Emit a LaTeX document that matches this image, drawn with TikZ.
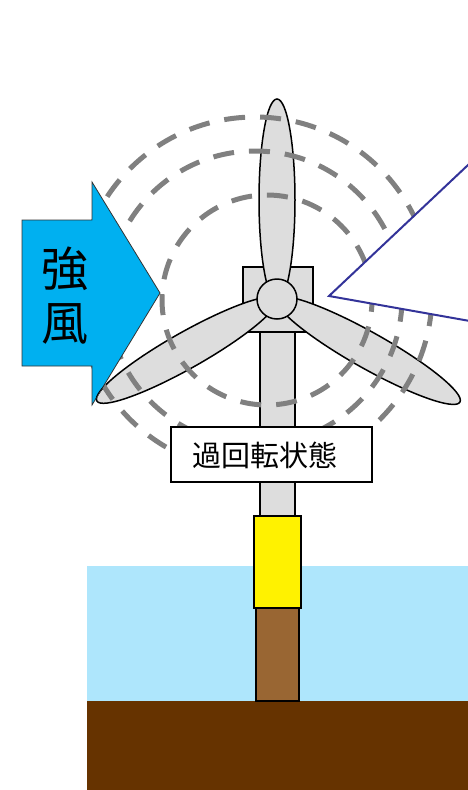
\documentclass[tikz,border=0pt]{standalone}
\usepackage{fontspec}
\newfontfamily\jpfont{Noto Sans CJK JP}
\definecolor{sea}{HTML}{AEE6FC}
\definecolor{seabed}{HTML}{663300}
\definecolor{pilebrown}{HTML}{996633}
\definecolor{towergray}{HTML}{DDDDDD}
\definecolor{ringgray}{HTML}{808080}
\definecolor{windblue}{HTML}{00B0F0}
\definecolor{calloutblue}{HTML}{333399}
\begin{document}
\begin{tikzpicture}[x=1pt,y=-1pt]
\tikzset{
  part/.style={fill=towergray, draw=black, line width=1.2pt},
  blade/.style={fill=towergray, draw=black, line width=1.5pt},
  ring/.style={draw=ringgray, line width=5pt, dash pattern=on 21pt off 15pt},
  windarrow/.style={fill=windblue, draw=black!80, line width=0.8pt},
  statebox/.style={draw=black, fill=white, line width=1.2pt},
}
\useasboundingbox (0,0) rectangle (468,790);
\clip (0,0) rectangle (468,790);

% sea and sea bed
\fill[sea] (87,566) rectangle (468,701);
\fill[seabed] (87,701) rectangle (468,790);

% tower, transition piece and monopile
\draw[part] (260,320) rectangle (295,516);
\draw[fill=yellow, draw=black, line width=1.2pt] (254,516) rectangle (301,608);
\draw[fill=pilebrown, draw=black, line width=1.2pt] (256,608) rectangle (299,701);

% nacelle
\draw[part] (243,267) rectangle (313,332);

% rotor
\coordinate (hub) at (277,299);
\draw[blade, shift={(hub)}, rotate=90] (99,0) ellipse [x radius=101pt, y radius=18pt];
\draw[blade, shift={(hub)}, rotate=209.5] (104,0) ellipse [x radius=103pt, y radius=18pt];
\draw[blade, shift={(hub)}, rotate=-29.4] (105,0) ellipse [x radius=105pt, y radius=18pt];
\draw[blade] (hub) circle [radius=20pt];

% rotation rings
\draw[ring] (255,294) circle [radius=177pt];
\draw[ring] (255,298) circle [radius=147pt];
\draw[ring] (267,300) circle [radius=105pt];

% wind arrow
\draw[windarrow] (22,220) -- (92,220) -- (92,182) -- (160,293) -- (92,405) -- (92,366) -- (22,366) -- cycle;
\begin{scope}
  \clip (22,220) -- (92,220) -- (92,182) -- (160,293) -- (92,405) -- (92,366) -- (22,366) -- cycle;
  \draw[blade, shift={(hub)}, rotate=209.5] (104,0) ellipse [x radius=103pt, y radius=18pt];
\end{scope}
\node[font=\jpfont\fontsize{47}{54}\selectfont, align=center, inner sep=0] (wind) at (65,296) {強\\風};

% callout wedge
\coordinate (apex) at (329,296);
\coordinate (upper) at (480,153.7);
\coordinate (lower) at (480,322.8);
\fill[white] (apex) -- (upper) -- (520,153.7) -- (520,322.8) -- (lower) -- cycle;
\draw[calloutblue, line width=2pt] (upper) -- (apex) -- (lower);

% state label
\draw[statebox] (171,427) rectangle (372,482);
\node[font=\jpfont\fontsize{29}{34}\selectfont, inner sep=0] (state) at (264.5,455) {過回転状態};
\end{tikzpicture}
\end{document}
